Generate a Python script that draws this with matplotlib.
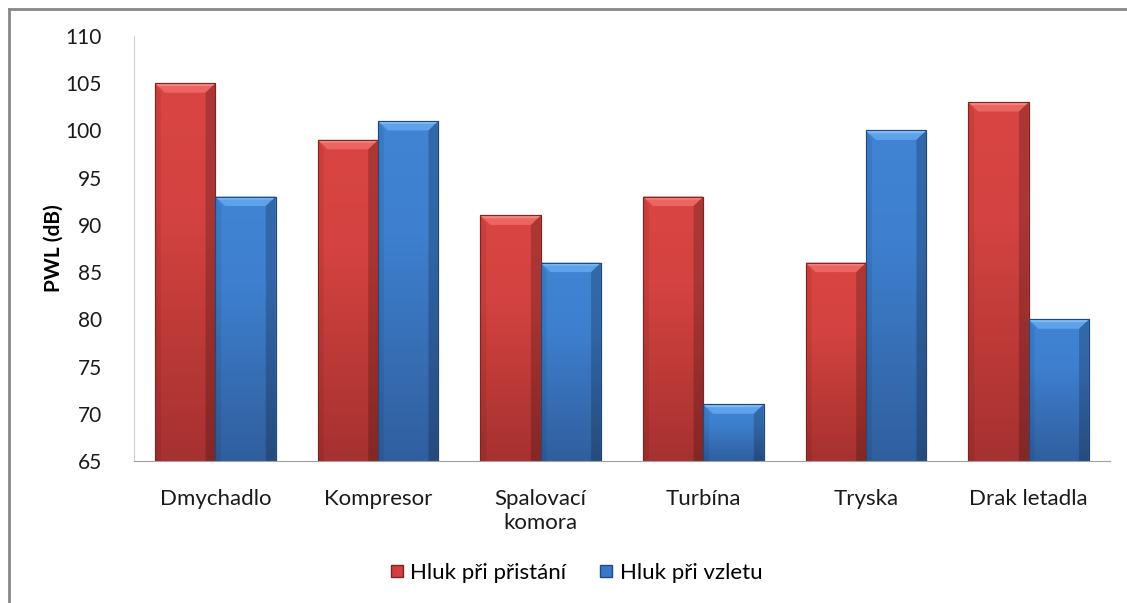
import matplotlib
matplotlib.use("Agg")
import matplotlib.pyplot as plt
import numpy as np
from matplotlib.lines import Line2D
from matplotlib.colors import LinearSegmentedColormap

categories = ["Dmychadlo", "Kompresor", "Spalovací\nkomora", "Turbína", "Tryska", "Drak letadla"]
landing = [105, 99, 91, 93, 86, 103]
takeoff = [93, 101, 86, 71, 100, 80]
series_names = ["Hluk při přistání", "Hluk při vzletu"]
y_ticks = [65, 70, 75, 80, 85, 90, 95, 100, 105, 110]

plt.rcParams['font.family'] = ['Lato', 'DejaVu Sans']

W, H = 1127, 603
fig = plt.figure(figsize=(W / 100, H / 100), dpi=100)
fig.patch.set_facecolor("white")

left, right, top, bottom = 134, 1110, 36, 461
ax = fig.add_axes([left / W, 1 - bottom / H, (right - left) / W, (bottom - top) / H])

x = np.arange(len(categories))
bw = 0.37
ymin = 65

red_cmap = LinearSegmentedColormap.from_list("r", ["#a63131", "#bd3a37", "#d44341", "#d94541"])
blue_cmap = LinearSegmentedColormap.from_list("b", ["#305f9e", "#376fb6", "#3e80cf", "#4084d3"])

bars1 = ax.bar(x - bw / 2, np.array(landing) - ymin, bw, bottom=ymin, color="#d04040",
               edgecolor="#7a2624", linewidth=0.8, label=series_names[0], zorder=2)
bars2 = ax.bar(x + bw / 2, np.array(takeoff) - ymin, bw, bottom=ymin, color="#3a78c8",
               edgecolor="#22497c", linewidth=0.8, label=series_names[1], zorder=2)

grad = np.linspace(0, 1, 256).reshape(-1, 1)
bev_h = 1.0
bev_w = 0.06
for bars, cmap, topcol, hicol in [(bars1, red_cmap, "#ee6a66", "#f58a85"),
                                  (bars2, blue_cmap, "#62a6ee", "#86bdf5")]:
    for p in bars:
        x0, y0 = p.get_x(), p.get_y()
        w, h = p.get_width(), p.get_height()
        im = ax.imshow(grad, cmap=cmap, aspect="auto", origin="lower",
                       extent=[x0, x0 + w, y0, y0 + h], zorder=2.1)
        im.set_clip_path(p)
        yt = y0 + h
        ax.fill([x0, x0 + w, x0 + w - bev_w, x0 + bev_w],
                [yt, yt, yt - bev_h, yt - bev_h],
                color=topcol, alpha=0.9, zorder=2.2, linewidth=0)
        ax.fill([x0, x0 + w, x0 + w - bev_w * 0.3, x0 + bev_w * 0.3],
                [yt, yt, yt - bev_h * 0.3, yt - bev_h * 0.3],
                color=hicol, alpha=0.9, zorder=2.25, linewidth=0)
        ax.fill([x0 + w - bev_w, x0 + w, x0 + w, x0 + w - bev_w],
                [y0, y0, yt, yt - bev_h],
                color="black", alpha=0.2, zorder=2.2, linewidth=0)
        ax.fill([x0, x0 + bev_w * 0.6, x0 + bev_w * 0.6, x0],
                [y0, y0, yt - bev_h, yt],
                color="black", alpha=0.07, zorder=2.2, linewidth=0)
        ax.add_patch(plt.Rectangle((x0, y0), w, h, fill=False, edgecolor=p.get_edgecolor(),
                                   linewidth=0.8, zorder=2.3))

ax.set_xlim(-0.5, len(categories) - 0.5)
ax.set_ylim(65, 110)
ax.set_yticks(y_ticks)
ax.set_yticklabels([str(t) for t in y_ticks], fontsize=15, color="#1a1a1a")
ax.set_xticks(x)
ax.set_xticklabels(categories, fontsize=16, color="#1a1a1a", linespacing=1.25)
ax.tick_params(axis="y", length=0, pad=23)
ax.tick_params(axis="x", length=0, pad=20)
for s in ["top", "right"]:
    ax.spines[s].set_visible(False)
ax.spines["left"].set_color("#d0d0d0")
ax.spines["bottom"].set_color("#a0a0a0")
ax.set_ylabel("PWL (dB)", fontsize=15, fontweight="bold")
ax.yaxis.set_label_coords((64 - left) / (right - left), 0.5)

handles = [Line2D([0], [0], marker="s", linestyle="none", markersize=9,
                  markerfacecolor="#d04040", markeredgecolor="#7a2624"),
           Line2D([0], [0], marker="s", linestyle="none", markersize=9,
                  markerfacecolor="#3a78c8", markeredgecolor="#22497c")]
fig.legend(handles, series_names, loc="center", bbox_to_anchor=(575 / W, 1 - 573 / H),
           ncol=2, frameon=False, fontsize=16, handletextpad=0.2, columnspacing=1.4,
           handlelength=0.8)

fig.add_artist(Line2D([9 / W, 1], [1 - 9 / H, 1 - 9 / H], color="#888888", linewidth=2,
                      transform=fig.transFigure))
fig.add_artist(Line2D([9 / W, 9 / W], [1 - 9 / H, 0], color="#888888", linewidth=2,
                      transform=fig.transFigure))

fig.savefig("out.png", dpi=100)
